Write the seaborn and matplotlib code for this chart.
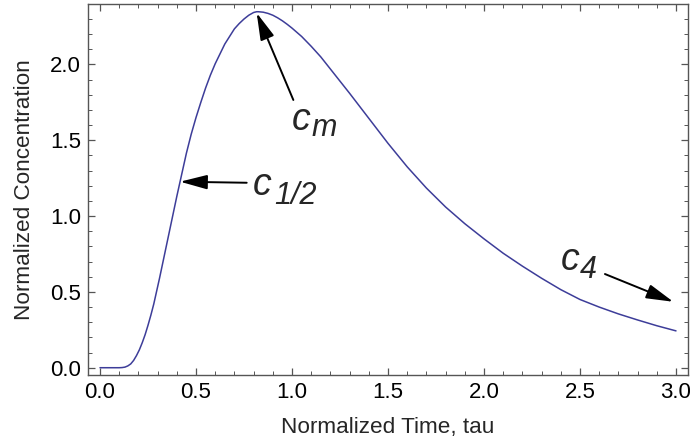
import matplotlib
matplotlib.use("Agg")
import matplotlib.pyplot as plt
import seaborn as sns
import pandas as pd
from matplotlib.ticker import MultipleLocator

# curve values
tau = [0.00, 0.10, 0.115, 0.13, 0.145, 0.16, 0.175, 0.19, 0.205, 0.22, 0.235,
       0.25, 0.265, 0.28, 0.31, 0.34, 0.37, 0.40, 0.417, 0.45, 0.475, 0.50,
       0.525, 0.55, 0.575, 0.60, 0.65, 0.70, 0.725, 0.75, 0.775, 0.80, 0.816,
       0.825, 0.85, 0.875, 0.90, 0.925, 0.95, 0.975, 1.00, 1.05, 1.10, 1.15,
       1.20, 1.30, 1.40, 1.50, 1.60, 1.70, 1.80, 1.90, 2.00, 2.10, 2.20,
       2.30, 2.40, 2.50, 2.60, 2.70, 2.80, 2.90, 3.00]
conc = [0.000, 0.000, 0.001, 0.004, 0.012, 0.025, 0.048, 0.080, 0.118, 0.165, 0.218,
        0.280, 0.347, 0.420, 0.590, 0.770, 0.950, 1.130, 1.227, 1.415, 1.540, 1.650,
        1.750, 1.845, 1.930, 2.005, 2.135, 2.235, 2.270, 2.300, 2.325, 2.343, 2.348,
        2.348, 2.345, 2.337, 2.325, 2.308, 2.288, 2.265, 2.240, 2.185, 2.120, 2.050,
        1.970, 1.810, 1.645, 1.480, 1.325, 1.185, 1.060, 0.950, 0.850, 0.755, 0.670,
        0.590, 0.515, 0.450, 0.400, 0.355, 0.315, 0.277, 0.243]

# annotations: letter, subscript, arrow tip, arrow tail, letter pos, subscript pos
labels = ["c", "c", "c"]
subs = ["m", "1/2", "4"]
tips = [(0.816, 2.34), (0.417, 1.227), (2.986, 0.435)]
tails = [(1.007, 1.766), (0.764, 1.22), (2.63, 0.618)]
letter_pos = [(1.047, 1.634), (0.846, 1.205), (2.448, 0.710)]
sub_pos = [(1.167, 1.58), (1.016, 1.133), (2.544, 0.644)]

df = pd.DataFrame({"tau": tau, "conc": conc})

sns.set_style("ticks")
plt.rcParams["font.family"] = ["Liberation Sans", "DejaVu Sans"]

fig = plt.figure(figsize=(6.9, 4.41), dpi=100)
ax = fig.add_axes([88 / 690, 66 / 441, 600 / 690, 371 / 441])

sns.lineplot(data=df, x="tau", y="conc", ax=ax, color="#3d3d99", lw=1.1)

ax.set_xlim(-0.0625, 3.0625)
ax.set_ylim(-0.048, 2.399)
for axis in (ax.xaxis, ax.yaxis):
    axis.set_major_locator(MultipleLocator(0.5))
    axis.set_minor_locator(MultipleLocator(0.1))
ax.xaxis.set_major_formatter(lambda v, p: f"{v:.1f}")
ax.yaxis.set_major_formatter(lambda v, p: f"{v:.1f}")

frame = "#555555"
for s in ax.spines.values():
    s.set_color(frame)
    s.set_linewidth(1.0)
ax.tick_params(which="both", direction="in", top=True, right=True,
               color=frame, labelsize=16, labelcolor="black", pad=5)
ax.tick_params(which="major", length=5, width=0.9)
ax.tick_params(which="minor", length=3, width=0.7)

ax.set_xlabel("Normalized Time, tau", fontsize=16.2, labelpad=10)
ax.set_ylabel("Normalized Concentration", fontsize=16.2, labelpad=11)

for lab, sub, tip, tail, lp, sp in zip(labels, subs, tips, tails, letter_pos, sub_pos):
    ax.annotate("", xy=tip, xytext=tail,
                arrowprops=dict(arrowstyle="-|>,head_length=0.83,head_width=0.22",
                                mutation_scale=20, color="black", lw=1.4,
                                shrinkA=0, shrinkB=0))
    ax.text(lp[0], lp[1], lab, fontsize=27, style="italic", ha="center", va="center")
    ax.text(sp[0], sp[1], sub, fontsize=22, style="italic", ha="center", va="center")

fig.savefig("out.png", dpi=100)
